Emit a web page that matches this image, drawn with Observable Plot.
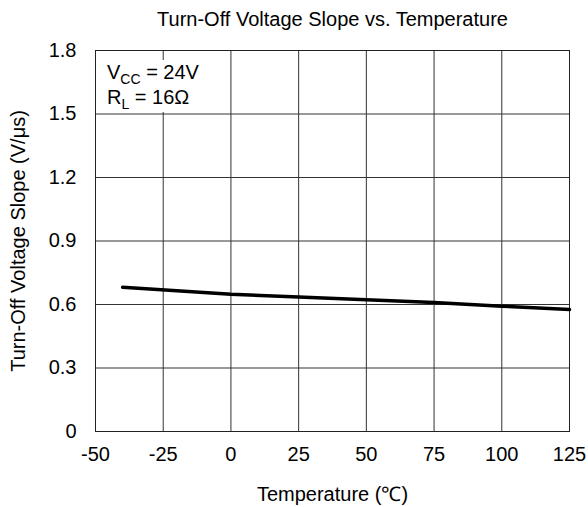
<!DOCTYPE html>
<html><head><meta charset="utf-8">
<script src="https://cdn.jsdelivr.net/npm/d3@7"></script>
<script src="https://cdn.jsdelivr.net/npm/@observablehq/plot@0.6"></script>
<style>
body{margin:0;background:#fff;}
#chart{position:relative;width:588px;height:507px;font-family:"Liberation Sans",Arial,sans-serif;}
</style></head>
<body><div id="chart"></div>
<script>
const temps = [-40, 0, 25, 50, 75, 100, 125];
const slopes = [0.682, 0.648, 0.635, 0.622, 0.609, 0.592, 0.576];
const xTicks = [-50, -25, 0, 25, 50, 75, 100, 125];
const yTicks = [0, 0.3, 0.6, 0.9, 1.2, 1.5, 1.8];
const data = temps.map((t, i) => ({t, v: slopes[i]}));
const FS = 20;

const plot = Plot.plot({
  width: 588, height: 507,
  marginLeft: 95, marginRight: 19, marginTop: 50, marginBottom: 76,
  style: {fontFamily: '"Liberation Sans", Arial, sans-serif', fontSize: FS + "px", color: "#000", background: "#fff"},
  x: {domain: [-50, 125], label: null},
  y: {domain: [0, 1.8], label: null},
  marks: [
    Plot.gridX(xTicks, {stroke: "#333", strokeOpacity: 1, strokeWidth: 1}),
    Plot.gridY(yTicks, {stroke: "#333", strokeOpacity: 1, strokeWidth: 1}),
    Plot.frame({stroke: "#222", strokeWidth: 1}),
    Plot.axisX({ticks: xTicks, tickSize: 0, tickPadding: 15, fontSize: FS, label: null, tickFormat: d => String(d)}),
    Plot.axisY({ticks: yTicks, tickSize: 0, tickPadding: 19, fontSize: FS, label: null, tickFormat: d => d === 0 ? "0" : d.toFixed(1)}),
    Plot.line(data, {x: "t", y: "v", stroke: "#000", strokeWidth: 3.5}),
    Plot.text(["Turn-Off Voltage Slope vs. Temperature"], {frameAnchor: "top", lineAnchor: "middle", textAnchor: "middle", dy: -30.5, fontSize: FS}),
    Plot.text(["Temperature (℃)"], {frameAnchor: "bottom", lineAnchor: "middle", textAnchor: "middle", dy: 63.5, fontSize: FS}),
    Plot.text(["Turn-Off Voltage Slope (V/μs)"], {frameAnchor: "left", lineAnchor: "middle", textAnchor: "middle", dx: -77, rotate: -90, fontSize: FS})
  ]
});
document.getElementById("chart").appendChild(plot);

// annotation with subscripts, on a white box
const svg = d3.select(plot);
const g = svg.append("g").attr("font-size", FS).attr("fill", "#000").attr("text-anchor", "start")
  .attr("font-family", '"Liberation Sans", Arial, sans-serif');
g.append("rect").attr("x", 97).attr("y", 60).attr("width", 112).attr("height", 52).attr("fill", "#fff");
const t1 = g.append("text").attr("x", 107).attr("y", 79);
t1.append("tspan").text("V");
t1.append("tspan").attr("font-size", 14).attr("dy", 5).text("CC");
t1.append("tspan").attr("dy", -5).text(" = 24V");
const t2 = g.append("text").attr("x", 107).attr("y", 104);
t2.append("tspan").text("R");
t2.append("tspan").attr("font-size", 14).attr("dy", 5).text("L");
t2.append("tspan").attr("dy", -5).text(" = 16Ω");
</script></body></html>
